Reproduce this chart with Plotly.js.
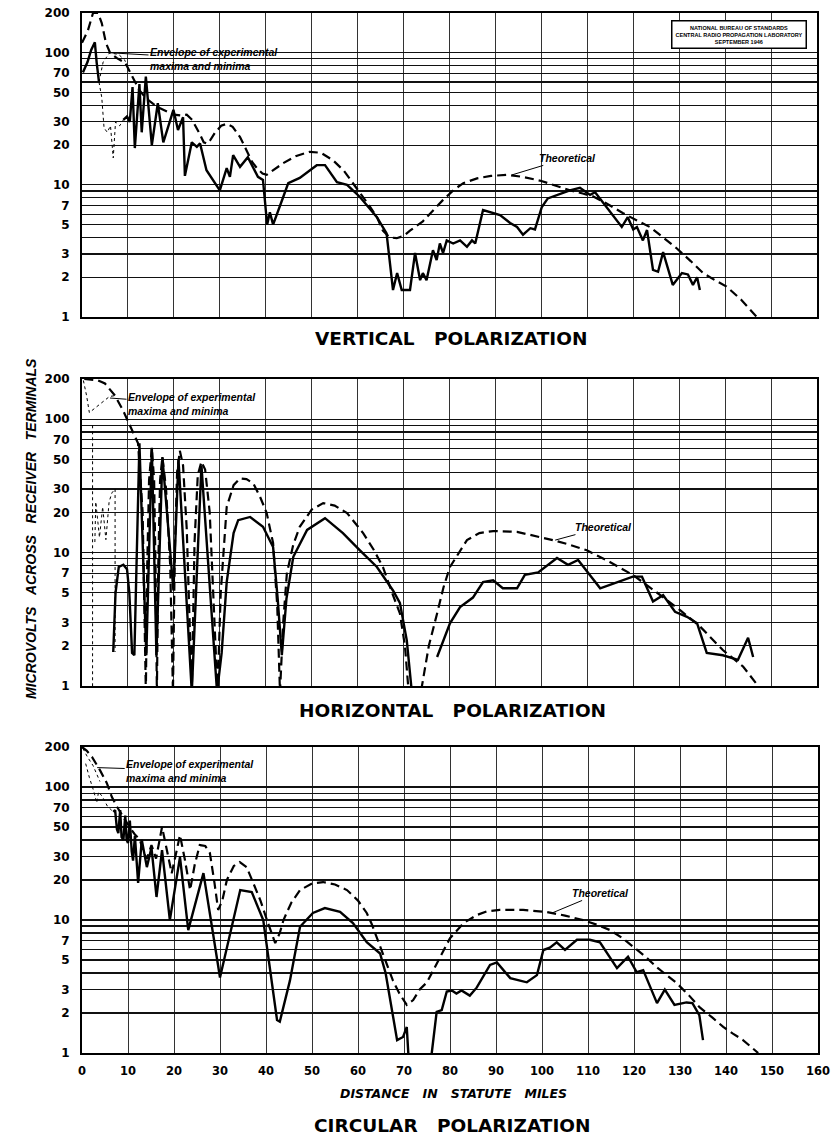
<!DOCTYPE html>
<html><head><meta charset="utf-8">
<script src="https://cdn.plot.ly/plotly-3.0.1.min.js"></script>
<style>html,body{margin:0;padding:0;background:#fff}#chart{width:833px;height:1140px}</style>
</head><body><div id="chart"></div>
<script>
// ---------- tick labels ----------
const xTickVals = [0,10,20,30,40,50,60,70,80,90,100,110,120,130,140,150,160];
const xTickText = ['0','10','20','30','40','50','60','70','80','90','100','110','120','130','140','150','160'];
const yTickVals = [1,2,3,4,5,6,7,8,9,10,20,30,40,50,60,70,80,90,100,200];
const yTickText = ['1','2','3','','5','','7','','','10','20','30','','50','','70','','','100','200'];

// ---------- VERTICAL POLARIZATION ----------
const vertTheoretical = [[0,119],[1.3,148],[2.4,200],[3.5,200],[4.3,168],[5.2,119],[6.1,100],[7.6,91],[9.4,84],[10.4,72],[11.5,60],[12.5,52],[14,45],[15.5,41],[17,38],[18.5,36],[20,34],[21.5,33.5],[22.8,34],[24,31],[25,27],[25.7,24],[26.5,21],[27.2,20.5],[28,22],[29,25],[30.3,28],[31.5,29],[32.8,27.5],[34.4,23],[35.8,18.3],[37,15],[38.2,13.2],[39.3,12.2],[40.2,11.9],[41.5,12.8],[43.8,14.6],[46.5,16.5],[49.6,17.8],[52,17.5],[54.6,15.4],[57,12.8],[60.5,8.8],[62.5,7],[64.2,5.7],[65.5,4.5],[67,4],[68.5,3.95],[70,4.1],[71.4,4.5],[74.2,5.3],[76.5,6.4],[78.6,7.7],[81,9.2],[83,10.3],[86,11.2],[89,11.7],[92.5,11.9],[96,11.5],[100,10.7],[103,9.9],[106.2,9.1],[109,8.6],[111.2,8.2],[114,7.3],[117.8,6.1],[120.7,5.4],[123.6,4.8],[126.5,4],[129.5,3.3],[132.5,2.65],[135.2,2.15],[137.8,1.9],[140.3,1.7],[143.5,1.35],[146.9,1.0]];
const vertMeasuredNear = [[0.2,71],[1.2,85],[2.0,105],[2.8,120],[3.2,84],[3.7,60]];
const vertMeasured = [[9.0,31],[9.8,33],[10.4,30],[11.0,55],[11.5,19],[12.5,58],[13.0,25],[13.9,66],[15.2,20],[16.5,41.5],[17.7,21],[19.9,37],[20.9,26],[22,32.5],[22.4,11.7],[23.9,21],[25,19.4],[25.7,20.6],[27.1,12.9],[30,9.1],[31.5,13.4],[32.2,11.5],[32.9,16.8],[34.4,13.7],[36.1,16.2],[38.3,11.5],[39.4,10.9],[40.3,5],[40.9,6.2],[41.6,5],[43.8,8.1],[44.9,10.3],[47.4,11.3],[51.1,14.1],[52.9,14.1],[55.5,10.5],[57.7,10],[60.5,8.1],[64.2,5.7],[66.3,4.3],[67.7,1.6],[68.6,2.15],[69.6,1.6],[71.4,1.6],[72.5,3.05],[73.6,1.9],[74.2,2.15],[75,1.9],[76.4,3.2],[77.2,2.7],[77.9,3.6],[78.6,3.05],[79.4,3.8],[80.8,3.6],[82.3,3.8],[83.8,3.4],[84.9,3.8],[85.6,3.6],[87.3,6.45],[91,5.9],[93.2,5.15],[94.7,4.8],[96,4.2],[97.6,4.7],[98.6,4.6],[100.1,6.8],[101.4,7.9],[103.4,8.4],[106.2,9.1],[108.4,9.5],[110.6,8.4],[111.7,8.8],[114.3,6.7],[117.5,4.8],[118.8,5.7],[120,4.6],[120.8,4.8],[122.1,3.8],[123,4.55],[124.3,2.27],[125.4,2.2],[126.5,3.1],[128.6,1.75],[130.6,2.15],[131.9,2.1],[133,1.75],[133.9,2],[134.5,1.6]];
const vertEnvelopeUpper = [[3.7,60],[4.6,85],[6,100],[8,97],[9.3,88],[10.4,72]];
const vertEnvelopeLower = [[3.7,60],[4.3,46],[4.8,27],[5.5,25],[6.2,28],[6.8,16],[7.3,30],[8.2,28],[9.0,31]];

// ---------- HORIZONTAL POLARIZATION ----------
const horTheoretical = [[0.5,200],[3.5,195],[5,185],[7.2,150],[9,115],[10.5,88],[12.2,66],[13.2,20],[13.9,0.9],[14.2,8],[14.6,35],[15.2,61],[15.7,35],[16.0,8],[16.3,0.9],[16.6,8],[17.0,35],[17.5,52],[18.3,30],[19.2,8],[19.8,0.9],[20.2,10],[20.7,40],[21.3,58],[22.0,45],[22.8,15],[23.9,0.9],[24.5,12],[25.2,38],[26,48],[26.8,42],[27.8,20],[29.5,0.9],[30.2,5],[31.5,22],[33,32],[34.4,36],[35.8,35.5],[37.3,33],[38.8,26],[40.2,19.8],[41.6,11.8],[42.5,4],[43.1,0.9],[43.8,3],[44.6,7],[46,11.5],[47.4,15.6],[50,21],[52.5,23.5],[55,22.5],[57.7,19.8],[61.2,14],[63.5,10.5],[65.5,7.8],[67.5,5],[69.2,3.5],[70.3,2],[71,1],[71.5,0.8],[73.5,0.8],[74,1],[75.5,2],[77.3,3.5],[78.7,5.5],[80.1,7.8],[82,10],[83.8,12.4],[86.5,14],[89.5,14.5],[94.7,14.3],[98.5,13.4],[102.5,12.4],[106,11.5],[109.9,10.4],[114.9,8.5],[119.9,6.8],[125.2,5],[130.2,3.7],[134.5,2.8],[139.5,1.86],[143.9,1.4],[147.2,1]];
const horMeasured = [[6.8,1.8],[7.3,5],[8.0,7.8],[9.0,8.1],[9.8,7.5],[10.3,5],[10.9,1.77],[11.4,1.7],[12.5,66],[14.0,1.7],[15.2,61],[16.2,1.7],[17.5,52],[19.9,5.2],[21.0,50],[23.9,0.9],[26.0,45],[29.4,0.9],[30.4,1.77],[31.5,6],[33,14],[34,17.5],[36.6,18.5],[39.4,15.6],[41.6,11],[42.6,4.5],[43.5,1.7],[44.5,4.5],[46,9.3],[49,14.8],[52.9,18.1],[56.8,14],[60.5,10.4],[64.2,7.8],[67.7,5.2],[69.2,4.2],[70.7,2.2],[71.8,0.9],null,[77.3,1.65],[80.1,2.95],[82.3,3.9],[85.1,4.6],[87.3,6],[89.5,6.2],[91.6,5.4],[94.7,5.4],[96.4,6.8],[99.3,7.1],[103.4,9.1],[105.8,8.1],[108,8.8],[112.8,5.4],[119.9,6.6],[121.9,6.6],[124.3,4.3],[126.5,4.8],[129.1,3.6],[131.7,3.3],[133.9,2.95],[136,1.77],[139.5,1.7],[142.8,1.57],[145,2.3],[146.1,1.65]];
const horEnvelopeA = [[0.3,195],[1.0,150],[1.6,112],[3,122],[4.5,135],[6,148],[7.2,150]];
const horEnvelopeB = [[2.3,90],[2.3,1],null,[2.8,12],[3.0,24],[3.8,13],[4.5,22],[5.2,12.5],[5.9,24],[6.5,28],[7.2,30],[7.2,1.8]];

// ---------- CIRCULAR POLARIZATION ----------
const circTheoretical = [[0,200],[1,188],[2.2,168],[3.9,134],[5.4,107],[6.5,84],[7.5,72],[8.5,63],[9.5,56],[10.5,49],[11.5,44],[12.6,40],[13.4,32],[14.1,29],[15.1,36.6],[16.1,29],[17.4,50],[18.5,33],[19.5,22.5],[20.3,30],[21.3,43.5],[22.4,28],[23.5,16.8],[24.5,26],[25.6,36.6],[26.8,36],[27.8,31.9],[28.8,19],[29.6,11.9],[30.5,14],[31.5,20],[33,25.5],[34.3,27.3],[35.8,25],[37.2,19],[38.8,14],[40.2,10],[41.2,8],[42,6.7],[43,8],[43.8,10],[45.5,13.5],[47.4,16.8],[50,18.8],[52.4,19.3],[55,18.5],[57.6,16.8],[60,14],[61.9,11.3],[63,9.3],[64.1,7.4],[65.8,5.2],[67.6,3.5],[69,2.8],[70.6,2.3],[72,2.5],[73.4,3],[75,3.4],[77.5,5],[80,7.3],[83,9.5],[85.8,10.9],[88,11.6],[90.8,11.9],[95.9,11.9],[101,11.5],[105,10.8],[108.9,10],[112,9.2],[114.8,8.4],[117.5,7.3],[119.8,6.3],[122.5,5.3],[125,4.4],[127,3.9],[129.3,3.35],[132,2.7],[134.3,2.2],[137,1.85],[139.4,1.57],[141.5,1.4],[143.7,1.25],[147,1]];
const circMeasured = [[6.8,65],[7.2,67],[7.6,48],[7.9,45],[8.3,67],[8.6,42],[9,40],[9.4,61],[9.7,40],[10,38],[10.4,56],[10.8,33],[11.1,28],[11.5,43],[12.2,19],[13,40],[14.1,25],[15.1,35],[16.2,14.9],[17.4,33.5],[19.1,10],[21.3,29.7],[23.1,8.4],[26.4,22.5],[30,3.7],[34.4,16.8],[36.9,16.2],[39.4,10],[42.4,1.77],[43,1.72],[45.2,3.5],[47.4,8.9],[50.2,11.3],[52.8,12.3],[56.1,11.5],[58.9,9.5],[61.9,6.8],[64.8,5.6],[66,4],[67.5,2],[68.5,1.25],[69.8,1.32],[70.6,1.57],[71.1,0.8],null,[75.7,0.8],[77.1,2.04],[78.2,2.1],[79.3,2.9],[80.4,2.95],[81.4,2.8],[82.5,2.95],[84.3,2.7],[85.8,3.1],[88.7,4.6],[90.2,4.8],[93.1,3.66],[96.7,3.4],[98.9,3.85],[100.3,5.95],[101.7,6.2],[103.2,6.8],[105,5.95],[107.6,7.1],[110.4,7.1],[112.6,6.8],[116.3,4.35],[118.7,5.3],[120.6,4.05],[122,4.2],[125,2.37],[126.7,3],[128.8,2.3],[131.4,2.4],[132.7,2.37],[134.2,1.93],[135,1.25]];
const circEnvelopeA = [[0.2,195],[1.2,168],[2.4,145],[3.3,125],[3.9,110]];
const circEnvelopeB = [[0.8,150],[1.6,118],[2.6,92],[3.2,76],[3.6,92],[4.4,85],[5.5,72],[6.8,65]];

// ---------- helpers ----------
const X = a => a.map(p => p ? p[0] : null);
const Y = a => a.map(p => p ? p[1] : null);
const theoLine = {color:'#000', width:2.2, dash:'9px,5px'};
const measLine = {color:'#000', width:2.4};
const envLine = {color:'#000', width:1, dash:'3px,3px'};
function tr(data, xa, ya, line){ return {x:X(data), y:Y(data), xaxis:xa, yaxis:ya, type:'scatter', mode:'lines', line:line, connectgaps:false, hoverinfo:'skip', showlegend:false}; }

const traces = [
  tr(vertTheoretical,'x','y',theoLine), tr(vertMeasuredNear,'x','y',measLine), tr(vertMeasured,'x','y',measLine),
  tr(vertEnvelopeUpper,'x','y',envLine), tr(vertEnvelopeLower,'x','y',envLine),
  tr(horTheoretical,'x2','y2',theoLine), tr(horMeasured,'x2','y2',measLine),
  tr(horEnvelopeA,'x2','y2',envLine), tr(horEnvelopeB,'x2','y2',envLine),
  tr(circTheoretical,'x3','y3',theoLine), tr(circMeasured,'x3','y3',measLine),
  tr(circEnvelopeA,'x3','y3',envLine), tr(circEnvelopeB,'x3','y3',envLine)
];

const W = 833, H = 1140;
const px = v => v / W, py = v => 1 - v / H;
const tickFontY = {family:'DejaVu Sans', size:12, weight:'bold', color:'#000'};
const tickFontX = {family:'DejaVu Sans', size:11.5, weight:'bold', color:'#000'};
function yax(top, bottom, anchor){
  return {type:'log', range:[0, Math.log10(200)], domain:[py(bottom), py(top)], anchor:anchor,
    tickmode:'array', tickvals:yTickVals, ticktext:yTickText, showgrid:true, gridcolor:'#111', gridwidth:1.2,
    showline:true, linecolor:'#000', linewidth:2, mirror:true, ticks:'', ticklabelstandoff:8,
    tickfont:tickFontY, zeroline:false, fixedrange:true};
}
function xax(left, right, anchor, labels){
  return {range:[0,160], domain:[px(left), px(right)], anchor:anchor, tickmode:'array', tickvals:xTickVals, ticktext:xTickText,
    showticklabels:labels, showgrid:true, gridcolor:'#333', gridwidth:1, showline:true, linecolor:'#000', linewidth:2,
    mirror:true, ticks:'', ticklabelstandoff:6, tickfont:tickFontX, zeroline:false, fixedrange:true};
}

const annFont = {family:'Liberation Sans', size:10.5, weight:'bold', style:'italic', color:'#000'};
const titleFont = {family:'DejaVu Sans', size:18.5, weight:'bold', color:'#000'};
const sp = '\u00A0\u00A0';
const sp3 = '\u00A0\u00A0\u00A0';
function paperText(text, x, y, font, extra){ return Object.assign({xref:'paper', yref:'paper', x:px(x), y:py(y), text:text, showarrow:false, font:font, xanchor:'center', yanchor:'middle'}, extra||{}); }
function leader(text, xa, ya, x, yv, ax, ay){
  return {xref:xa, yref:ya, x:x, y:Math.log10(yv), text:text, showarrow:true, arrowhead:0, arrowwidth:1, arrowcolor:'#000',
    ax:ax, ay:ay, font:annFont, align:'left', standoff:0};
}

const annotations = [
  leader('Envelope of experimental<br>maxima and minima', 'x', 'y', 6.1, 100, 104, 6),
  leader('Theoretical', 'x', 'y', 93.6, 11.9, 56, -17),
  leader('Envelope of experimental<br>maxima and minima', 'x2', 'y2', 6.1, 144, 82, 6),
  leader('Theoretical', 'x2', 'y2', 103, 12.4, 48, -13),
  leader('Envelope of experimental<br>maxima and minima', 'x3', 'y3', 3.3, 140, 93, 3),
  leader('Theoretical', 'x3', 'y3', 102.2, 11.3, 48, -20),
  paperText('VERTICAL' + sp3 + 'POLARIZATION', 451, 339, titleFont),
  paperText('HORIZONTAL' + sp3 + 'POLARIZATION', 452, 710, titleFont),
  paperText('CIRCULAR' + sp3 + 'POLARIZATION', 452, 1125, titleFont),
  paperText('DISTANCE' + sp3 + 'IN' + sp3 + 'STATUTE' + sp3 + 'MILES', 453, 1093, {family:'DejaVu Sans', size:12.5, weight:'bold', style:'italic', color:'#000'}),
  paperText('MICROVOLTS' + sp3 + 'ACROSS' + sp3 + 'RECEIVER' + sp3 + 'TERMINALS', 31, 529, {family:'Liberation Sans', size:14, weight:'bold', style:'italic', color:'#000'}, {textangle:-90}),
  paperText('NATIONAL BUREAU OF STANDARDS<br>CENTRAL RADIO PROPAGATION LABORATORY<br>SEPTEMBER 1946', 739, 35,
    {family:'Liberation Sans', size:5.5, weight:'bold', color:'#000'}, {bordercolor:'#000', borderwidth:1.5, borderpad:3, bgcolor:'#fff'})
];

const layout = {
  width:W, height:H, margin:{l:0, r:0, t:0, b:0}, paper_bgcolor:'#fff', plot_bgcolor:'#fff', showlegend:false,
  xaxis: xax(82, 817, 'y', false),
  yaxis: yax(13, 317, 'x'),
  xaxis2: xax(82, 817, 'y2', false),
  yaxis2: yax(379, 686, 'x2'),
  xaxis3: xax(82, 818, 'y3', true),
  yaxis3: yax(747, 1053, 'x3'),
  annotations: annotations
};

Plotly.newPlot('chart', traces, layout, {staticPlot:true, displayModeBar:false});
</script></body></html>
